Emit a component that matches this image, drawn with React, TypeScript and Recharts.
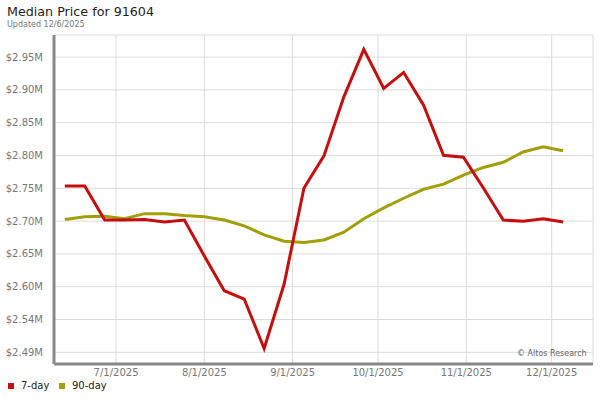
import React from "react";
import { LineChart, Line, XAxis, YAxis, CartesianGrid, ReferenceArea } from "recharts";

const dates = [
  "2025-06-13", "2025-06-20", "2025-06-27", "2025-07-04", "2025-07-11", "2025-07-18",
  "2025-07-25", "2025-08-01", "2025-08-08", "2025-08-15", "2025-08-22", "2025-08-29",
  "2025-09-05", "2025-09-12", "2025-09-19", "2025-09-26", "2025-10-03", "2025-10-10",
  "2025-10-17", "2025-10-24", "2025-10-31", "2025-11-07", "2025-11-14", "2025-11-21",
  "2025-11-28", "2025-12-05",
];

// values in $M
const sevenDay = [
  2.753, 2.753, 2.700, 2.700, 2.701, 2.697, 2.700, 2.644, 2.590, 2.577, 2.500, 2.600,
  2.750, 2.800, 2.892, 2.966, 2.905, 2.930, 2.879, 2.801, 2.798, 2.750, 2.700, 2.698,
  2.702, 2.697,
];

const ninetyDay = [
  2.701, 2.705, 2.706, 2.702, 2.710, 2.710, 2.707, 2.705, 2.700, 2.691, 2.677, 2.667,
  2.665, 2.669, 2.681, 2.702, 2.719, 2.734, 2.748, 2.756, 2.770, 2.782, 2.790, 2.806,
  2.814, 2.808,
];

const yTicks = [2.494, 2.5451, 2.5962, 2.6473, 2.6984, 2.7495, 2.8006, 2.8517, 2.9028, 2.9539];
const yTickLabels = ["$2.49M", "$2.54M", "$2.60M", "$2.65M", "$2.70M", "$2.75M", "$2.80M", "$2.85M", "$2.90M", "$2.95M"];

const xTickDates = ["2025-07-01", "2025-08-01", "2025-09-01", "2025-10-01", "2025-11-01", "2025-12-01"];
const xTickLabels = ["7/1/2025", "8/1/2025", "9/1/2025", "10/1/2025", "11/1/2025", "12/1/2025"];

const toDay = (s: string) => {
  const [y, m, d] = s.split("-").map(Number);
  return Date.UTC(y, m - 1, d) / 86400000;
};

const data = dates.map((d, i) => ({ day: toDay(d), a: sevenDay[i], b: ninetyDay[i] }));
const xTicks = xTickDates.map(toDay);
const xDomain = [toDay(dates[0]) - 3.8, toDay(dates[0]) + 185.5];
const yDomain = [2.4758, 2.9883];

const FONT = "'DejaVu Sans', Verdana, sans-serif";
const RED = "#c80d0d";
const OLIVE = "#a39e08";

export default function App() {
  return (
    <div style={{ position: "absolute", left: 0, top: 0, width: 600, height: 400, background: "#fff", fontFamily: FONT }}>
      <div style={{ position: "absolute", left: 7, top: 4, fontSize: 12.7, color: "#222", whiteSpace: "nowrap" }}>
        Median Price for 91604
      </div>
      <div style={{ position: "absolute", left: 7, top: 20, fontSize: 8, color: "#777", whiteSpace: "nowrap" }}>
        Updated 12/6/2025
      </div>
      <div style={{ position: "absolute", left: 0, top: 0 }}>
        <LineChart width={600} height={400} data={data} margin={{ top: 35, right: 7, bottom: 6, left: 0 }}>
          <CartesianGrid stroke="#dcdcdc" strokeWidth={1} />
          <ReferenceArea stroke="#dcdcdc" fill="none" strokeWidth={1} ifOverflow="visible" />
          <XAxis
            dataKey="day"
            type="number"
            domain={xDomain}
            ticks={xTicks}
            allowDataOverflow
            height={30}
            tickLine={false}
            tickSize={0}
            tickMargin={5}
            axisLine={{ stroke: "#888", strokeWidth: 3 }}
            tick={{ fill: "#777", fontSize: 10, fontFamily: FONT }}
            tickFormatter={(v: number) => {
              const i = xTicks.indexOf(v);
              return i >= 0 ? xTickLabels[i] : "";
            }}
          />
          <YAxis
            type="number"
            domain={yDomain}
            ticks={yTicks}
            allowDataOverflow
            width={54}
            tickLine={false}
            tickSize={0}
            tickMargin={11}
            axisLine={{ stroke: "#888", strokeWidth: 3 }}
            tick={{ fill: "#777", fontSize: 10, fontFamily: FONT }}
            tickFormatter={(v: number) => {
              const i = yTicks.indexOf(v);
              return i >= 0 ? yTickLabels[i] : "";
            }}
          />
          <Line type="linear" dataKey="b" stroke={OLIVE} strokeWidth={3} dot={false} isAnimationActive={false} />
          <Line type="linear" dataKey="a" stroke={RED} strokeWidth={3} dot={false} isAnimationActive={false} />
        </LineChart>
      </div>
      <div style={{ position: "absolute", left: 517, top: 349, fontSize: 8, color: "#666", whiteSpace: "nowrap" }}>
        © Altos Research
      </div>
      <div style={{ position: "absolute", left: 8, top: 383, width: 6, height: 6, background: RED }} />
      <div style={{ position: "absolute", left: 21, top: 380, fontSize: 10, color: "#222", whiteSpace: "nowrap" }}>7-day</div>
      <div style={{ position: "absolute", left: 59, top: 383, width: 6, height: 6, background: OLIVE }} />
      <div style={{ position: "absolute", left: 72, top: 380, fontSize: 10, color: "#222", whiteSpace: "nowrap" }}>90-day</div>
    </div>
  );
}
